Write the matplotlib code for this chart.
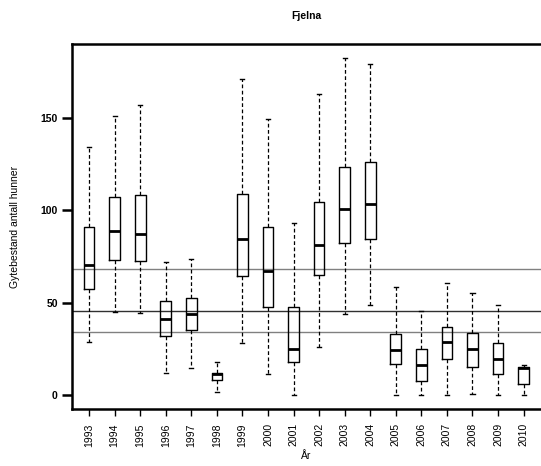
import matplotlib.pyplot as plt

# Data (Fjelna)
years = [1993, 1994, 1995, 1996, 1997, 1998, 1999, 2000, 2001,
         2002, 2003, 2004, 2005, 2006, 2007, 2008, 2009, 2010]
whisker_low = [29.0, 45.2, 44.5, 12.3, 15.0, 1.9, 28.5, 11.6, 0.3,
               26.0, 43.8, 48.7, 0.3, 0.3, 0.3, 0.6, 0.3, 0.3]
q1 = [57.3, 73.1, 72.8, 31.9, 35.3, 8.2, 64.3, 47.6, 17.9,
      65.0, 82.1, 84.6, 16.8, 8.0, 19.5, 15.2, 11.4, 6.0]
median = [70.4, 88.8, 87.0, 41.5, 43.8, 11.4, 84.3, 67.0, 25.1,
          81.2, 100.5, 103.3, 24.6, 16.3, 29.0, 25.3, 19.9, 14.7]
q3 = [91.1, 107.0, 108.2, 50.8, 52.6, 12.1, 108.9, 90.8, 47.9,
      104.3, 123.2, 125.8, 33.4, 24.9, 37.1, 33.7, 28.3, 15.2]
whisker_high = [134.1, 151.0, 156.9, 72.2, 73.7, 18.2, 171.0, 149.0, 92.9,
                162.5, 182.0, 178.7, 58.4, 45.4, 60.5, 55.5, 49.0, 16.3]
ref_lines = [68.3, 45.6, 34.3]
ref_colors = ['#808080', '#303030', '#808080']

plt.rcParams['font.family'] = ['Liberation Sans', 'DejaVu Sans']

fig = plt.figure(figsize=(5.41, 4.66), dpi=100)
ax = fig.add_axes([0.1325, 0.1217, 0.8675, 0.7839])

stats = []
for i, yr in enumerate(years):
    stats.append({'whislo': whisker_low[i], 'q1': q1[i], 'med': median[i],
                  'q3': q3[i], 'whishi': whisker_high[i], 'label': str(yr)})

pos = list(range(1, len(years) + 1))
ax.bxp(stats, positions=pos, widths=0.42, showfliers=False,
       capwidths=0.16,
       boxprops=dict(color='black', linewidth=1.0),
       medianprops=dict(color='black', linewidth=2.0),
       whiskerprops=dict(color='black', linewidth=0.9, linestyle=(0, (3, 2))),
       capprops=dict(color='black', linewidth=1.0))

# horisontale referanselinjer
for y, c in zip(ref_lines, ref_colors):
    ax.axhline(y, color=c, linewidth=1.0, zorder=0)

ax.set_xlim(0.32, 18.68)
ax.set_ylim(-7.5, 189.7)
ax.set_yticks([0, 50, 100, 150])
ax.set_yticklabels(['0', '50', '100', '150'], fontweight='bold')
ax.set_xticks(pos)
ax.set_xticklabels([str(y) for y in years], rotation=90)

ax.tick_params(axis='y', length=7, width=1.8, labelsize=7.5, pad=3)
ax.tick_params(axis='x', length=5, width=1.0, labelsize=7.5, pad=5)

for s in ['left', 'top', 'bottom']:
    ax.spines[s].set_linewidth(1.8)
ax.spines['right'].set_visible(False)

ax.set_ylabel('Gytebestand antall hunner', fontsize=7.5, labelpad=15)
ax.set_xlabel('År', fontsize=7.5, labelpad=3)
ax.set_title('Fjelna', fontsize=7.5, fontweight='bold', pad=18)

fig.savefig('out.png', dpi=100)
